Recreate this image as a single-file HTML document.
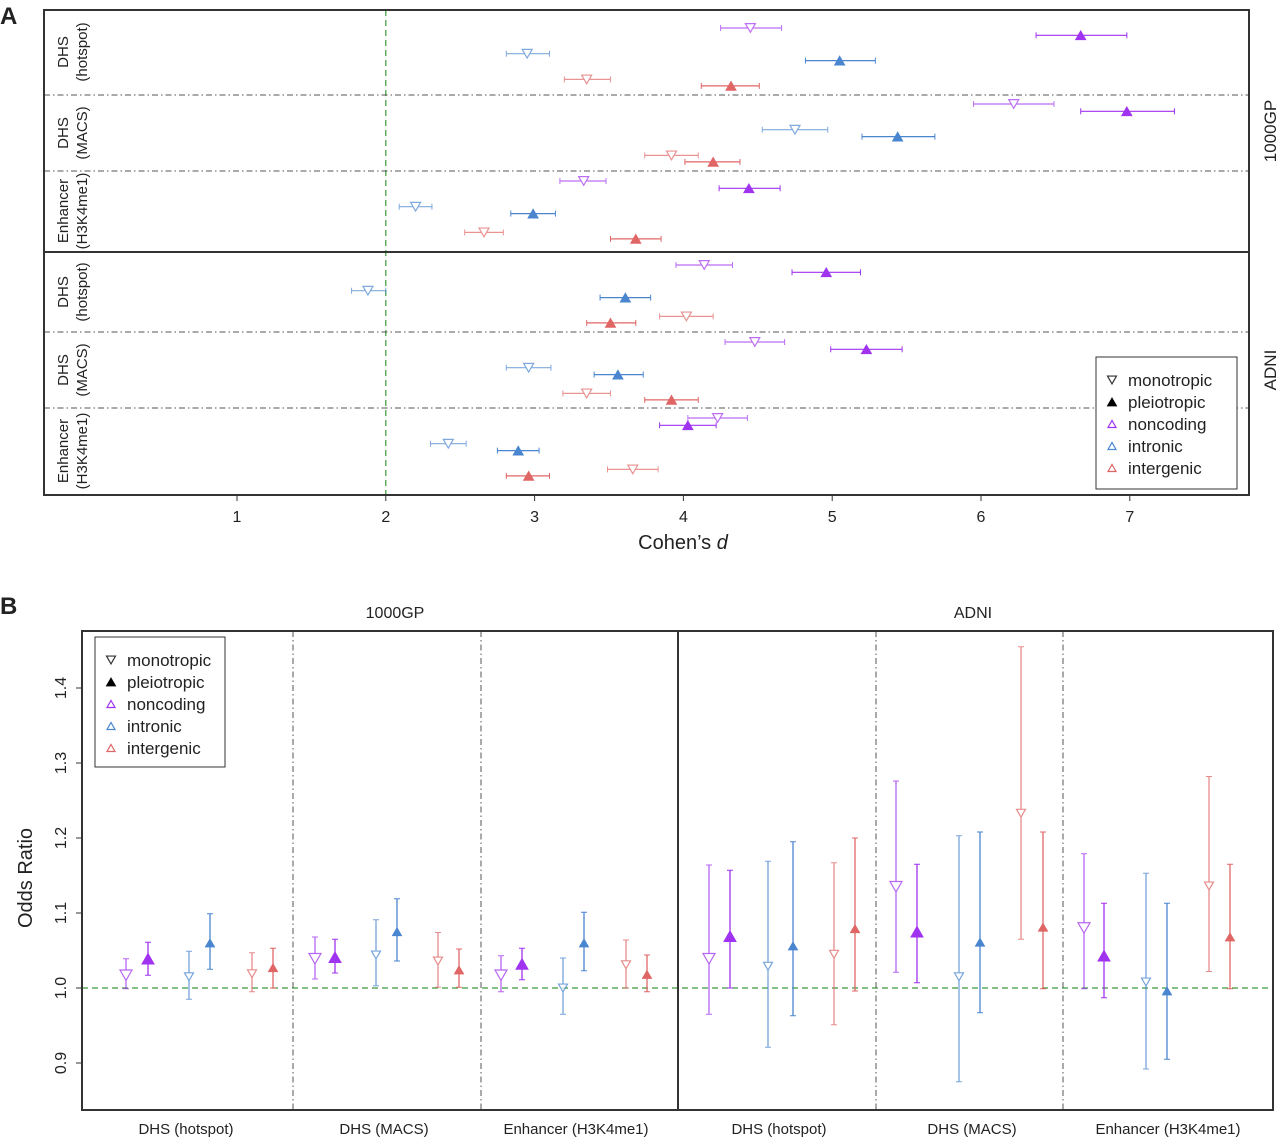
<!DOCTYPE html>
<html><head><meta charset="utf-8"><style>
body{margin:0;background:#fff;width:1280px;height:1140px;overflow:hidden}
svg text{font-family:"Liberation Sans",sans-serif;fill:#222}
</style></head><body>
<svg id="s" width="1280" height="1140" xmlns="http://www.w3.org/2000/svg">
<text x="0" y="24" font-size="24" font-weight="bold">A</text>
<text x="0" y="614" font-size="24" font-weight="bold">B</text>
<g id="A"></g>
<g id="B"></g>
</svg>
<script>
// ---------- Panel A data ----------
const aGroups=["DHS (hotspot) 1000GP","DHS (MACS) 1000GP","Enhancer 1000GP","DHS (hotspot) ADNI","DHS (MACS) ADNI","Enhancer ADNI"];
const aSeries=["noncoding-mono","noncoding-pleio","intronic-mono","intronic-pleio","intergenic-mono","intergenic-pleio"];
const aVal=[[4.45,6.67,2.95,5.05,3.35,4.32],[6.22,6.98,4.75,5.44,3.92,4.20],[3.33,4.44,2.20,2.99,2.66,3.68],[4.14,4.96,1.88,3.61,4.02,3.51],[4.48,5.23,2.96,3.56,3.35,3.92],[4.23,4.03,2.42,2.89,3.66,2.96]];
const aLo=[[4.25,6.37,2.81,4.82,3.20,4.12],[5.95,6.67,4.53,5.20,3.74,4.01],[3.17,4.24,2.09,2.84,2.53,3.51],[3.95,4.73,1.77,3.44,3.84,3.35],[4.28,4.99,2.81,3.40,3.19,3.74],[4.03,3.84,2.30,2.75,3.49,2.81]];
const aHi=[[4.66,6.98,3.10,5.29,3.51,4.51],[6.49,7.30,4.97,5.69,4.10,4.38],[3.48,4.65,2.31,3.14,2.79,3.85],[4.33,5.19,2.00,3.78,4.20,3.68],[4.68,5.47,3.11,3.73,3.51,4.10],[4.43,4.22,2.54,3.03,3.83,3.10]];
const aTicks=[1,2,3,4,5,6,7];
// ---------- Panel B data ----------
const bGroups=["1000GP DHS (hotspot)","1000GP DHS (MACS)","1000GP Enhancer (H3K4me1)","ADNI DHS (hotspot)","ADNI DHS (MACS)","ADNI Enhancer (H3K4me1)"];
const bVal=[[1.017,1.039,1.015,1.060,1.019,1.027],[1.039,1.041,1.044,1.075,1.036,1.024],[1.017,1.032,1.000,1.060,1.031,1.018],[1.039,1.069,1.029,1.056,1.045,1.079],[1.135,1.075,1.015,1.061,1.233,1.081],[1.080,1.043,1.008,0.996,1.136,1.068]];
const bLo=[[0.999,1.017,0.985,1.025,0.995,1.000],[1.012,1.020,1.003,1.036,1.001,1.001],[0.995,1.011,0.965,1.023,1.000,0.995],[0.965,1.000,0.921,0.963,0.951,0.996],[1.021,1.007,0.875,0.967,1.065,0.999],[0.999,0.987,0.892,0.905,1.022,0.999]];
const bHi=[[1.039,1.061,1.049,1.099,1.047,1.053],[1.068,1.065,1.091,1.119,1.074,1.052],[1.043,1.053,1.040,1.101,1.064,1.044],[1.164,1.157,1.169,1.195,1.167,1.200],[1.276,1.165,1.203,1.208,1.455,1.208],[1.179,1.113,1.153,1.113,1.282,1.165]];
const bTicks=[0.9,1.0,1.1,1.2,1.3,1.4];

const NS="http://www.w3.org/2000/svg";
const colors=["#a033f0","#4a86d0","#e06666"];
function mk(p,tag,at){const e=document.createElementNS(NS,tag);for(const k in at)e.setAttribute(k,at[k]);p.appendChild(e);return e;}
function tri(p,cx,cy,down,col,sz){
  const h=sz*0.87;let pts;
  if(down)pts=`${cx-sz/2},${cy-h/2} ${cx+sz/2},${cy-h/2} ${cx},${cy+h/2}`;
  else pts=`${cx-sz/2},${cy+h/2} ${cx+sz/2},${cy+h/2} ${cx},${cy-h/2}`;
  return mk(p,'polygon',{points:pts,fill:down?'#fff':col,stroke:col,'stroke-width':down?1.2:1});
}
const A=document.getElementById('A'),B=document.getElementById('B');

// ---------- Panel A ----------
const ax=v=>88.2+v*148.8;
const groupY=[28,104,181,265,342,418];
mk(A,'line',{x1:ax(2),x2:ax(2),y1:10,y2:495,stroke:'#3a9a3a','stroke-dasharray':'6,4','stroke-width':1.2});
[95,171,332,408].forEach(y=>{const l=mk(A,'line',{x1:44,x2:1249,y1:y,y2:y,stroke:'#555','stroke-dasharray':'6,3,1.5,3','stroke-width':1});
});
mk(A,'line',{x1:44,x2:1249,y1:252,y2:252,stroke:'#333','stroke-width':2});
const boxA=mk(A,'rect',{x:44,y:10,width:1205,height:485,fill:'none',stroke:'#333','stroke-width':2});

aTicks.forEach(t=>{mk(A,'line',{x1:ax(t),x2:ax(t),y1:495,y2:501,stroke:'#333'});
 const tx=mk(A,'text',{x:ax(t),y:522,'font-size':16,'text-anchor':'middle'});tx.textContent=t;
 });
const xt=mk(A,'text',{x:683,y:549,'font-size':20,'text-anchor':'middle'});xt.innerHTML='Cohen’s <tspan font-style="italic">d</tspan>';

const aLab=[["DHS","(hotspot)"],["DHS","(MACS)"],["Enhancer","(H3K4me1)"],["DHS","(hotspot)"],["DHS","(MACS)"],["Enhancer","(H3K4me1)"]];
const aMid=[52,133,211,292,370,451];
aLab.forEach((l,i)=>{const t=mk(A,'text',{transform:`translate(68,${aMid[i]}) rotate(-90)`,'font-size':15,'text-anchor':'middle'});
 t.innerHTML=`<tspan x="0" dy="0">${l[0]}</tspan><tspan x="0" dy="19">${l[1]}</tspan>`;
 });
[["1000GP",131],["ADNI",370]].forEach(d=>{const t=mk(A,'text',{transform:`translate(1276,${d[1]}) rotate(-90)`,'font-size':17,'text-anchor':'middle'});t.textContent=d[0];
 });
aVal.forEach((row,g)=>row.forEach((v,r)=>{
  const y=groupY[g]+r*(r%2?7.3:7.5)+Math.floor(r/2)*10.7, col=colors[Math.floor(r/2)], mono=r%2===0;
  const gg=mk(A,'g',{opacity:mono?0.7:1});
  
  mk(gg,'line',{x1:ax(aLo[g][r]),x2:ax(aHi[g][r]),y1:y,y2:y,stroke:col,'stroke-width':1.2});
  mk(gg,'line',{x1:ax(aLo[g][r]),x2:ax(aLo[g][r]),y1:y-3,y2:y+3,stroke:col});
  mk(gg,'line',{x1:ax(aHi[g][r]),x2:ax(aHi[g][r]),y1:y-3,y2:y+3,stroke:col});
  tri(gg,ax(v),y,mono,col,10);
}));
function legend(p,x,y,w,h){
  const g=mk(p,'g',{});
  mk(g,'rect',{x:x,y:y,width:w,height:h,fill:'#fff',stroke:'#333','stroke-width':1});
  const items=[["monotropic",true,"#333"],["pleiotropic",false,"#000"],["noncoding",false,"#a033f0"],["intronic",false,"#4a86d0"],["intergenic",false,"#e06666"]];
  items.forEach((it,i)=>{const yy=y+23+i*22;
    const e=mk(g,'g',{});
    if(i<2)tri(e,x+16,yy,it[1],it[2],9);else tri(e,x+16,yy,true,it[2],9).setAttribute('points',`${x+12},${yy+3.5} ${x+20},${yy+3.5} ${x+16},${yy-3.5}`);
    if(i>=2)e.lastChild.setAttribute('fill','#fff');
    const t=mk(e,'text',{x:x+32,y:yy+6,'font-size':17});t.textContent=it[0];});
}
legend(A,1096,357,141,132);

// ---------- Panel B ----------
const by=v=>988-(v-1)*750;
const bX=[[126,148,189,210,252,273],[315,335,376,397,438,459],[501,522,563,584,626,647],[709,730,768,793,834,855],[896,917,959,980,1021,1043],[1084,1104,1146,1167,1209,1230]];
mk(B,'line',{x1:82,x2:1273,y1:by(1),y2:by(1),stroke:'#3a9a3a','stroke-dasharray':'6,4','stroke-width':1.2});
[293,481,876,1063].forEach(x=>{const l=mk(B,'line',{x1:x,x2:x,y1:631,y2:1110,stroke:'#555','stroke-dasharray':'6,3,1.5,3'});
 });
mk(B,'line',{x1:678,x2:678,y1:631,y2:1110,stroke:'#333','stroke-width':2});
const boxB=mk(B,'rect',{x:82,y:631,width:1191,height:479,fill:'none',stroke:'#333','stroke-width':2});

bTicks.forEach(t=>{mk(B,'line',{x1:76,x2:82,y1:by(t),y2:by(t),stroke:'#333'});
 const tx=mk(B,'text',{transform:`translate(66,${by(t)}) rotate(-90)`,'font-size':16,'text-anchor':'middle'});tx.textContent=t.toFixed(1);
 });
const yt=mk(B,'text',{transform:'translate(32,878) rotate(-90)','font-size':20,'text-anchor':'middle'});yt.textContent='Odds Ratio';

[["1000GP",395],["ADNI",973]].forEach(d=>{const t=mk(B,'text',{x:d[1],y:618,'font-size':16,'text-anchor':'middle'});t.textContent=d[0];
 });
const bLab=["DHS (hotspot)","DHS (MACS)","Enhancer (H3K4me1)","DHS (hotspot)","DHS (MACS)","Enhancer (H3K4me1)"];
const bMid=[186,384,576,779,972,1168];
bLab.forEach((l,i)=>{const t=mk(B,'text',{x:bMid[i],y:1134,'font-size':15,'text-anchor':'middle'});t.textContent=l;
 });
bVal.forEach((row,g)=>row.forEach((v,r)=>{
  const x=bX[g][r],col=colors[Math.floor(r/2)],mono=r%2===0;
  const gg=mk(B,'g',{opacity:mono?0.75:1});
  
  mk(gg,'line',{x1:x,x2:x,y1:by(bLo[g][r]),y2:by(bHi[g][r]),stroke:col,'stroke-width':1.3});
  mk(gg,'line',{x1:x-3,x2:x+3,y1:by(bLo[g][r]),y2:by(bLo[g][r]),stroke:col});
  mk(gg,'line',{x1:x-3,x2:x+3,y1:by(bHi[g][r]),y2:by(bHi[g][r]),stroke:col});
  tri(gg,x,by(v),mono,col,r<2?12:9);
}));
legend(B,95,637,130,130);
</script>
</body></html>
